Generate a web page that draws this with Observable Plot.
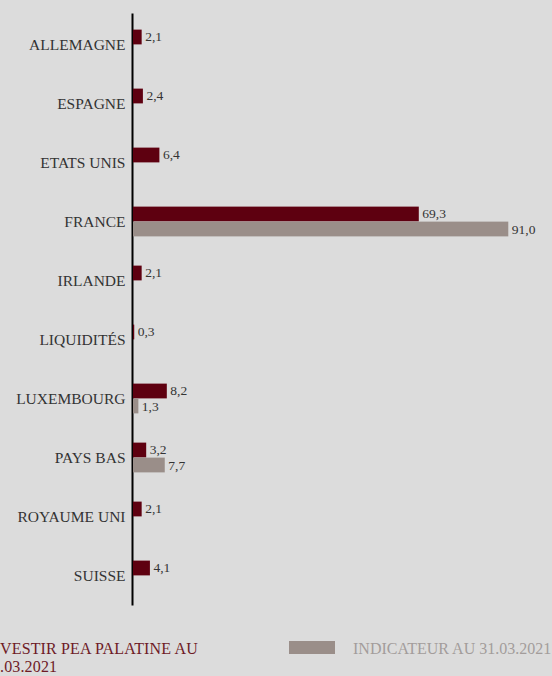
<!DOCTYPE html>
<html>
<head>
<meta charset="utf-8">
<script src="https://cdn.jsdelivr.net/npm/d3@7"></script>
<script src="https://cdn.jsdelivr.net/npm/@observablehq/plot@0.6"></script>
<style>
  html, body { margin: 0; padding: 0; background: #dcdcdc; width: 552px; height: 676px; overflow: hidden; }
  #wrap { position: relative; width: 552px; height: 676px; font-family: "Liberation Serif", Tinos, "Times New Roman", "DejaVu Serif", serif; }
  .leg { position: absolute; font-size: 16px; line-height: 18px; white-space: nowrap; }
  #leg1 { left: 0px; top: 640px; color: #6e1a26; letter-spacing: 0.15px; }
  #leg2 { left: 289px; top: 640px; color: #a39c9b; }
  #sw { display: inline-block; width: 46px; height: 13px; background: #9a8e89; vertical-align: top; margin-top: 1px; margin-right: 18px; }
</style>
</head>
<body>
<div id="wrap">
  <div id="chart"></div>
  <div class="leg" id="leg1">VESTIR PEA PALATINE AU<br>.03.2021</div>
  <div class="leg" id="leg2"><span id="sw"></span>INDICATEUR AU 31.03.2021</div>
</div>
<script>
const countries = ["ALLEMAGNE","ESPAGNE","ETATS UNIS","FRANCE","IRLANDE","LIQUIDITÉS","LUXEMBOURG","PAYS BAS","ROYAUME UNI","SUISSE"];
const fundValues = [2.1, 2.4, 6.4, 69.3, 2.1, 0.3, 8.2, 3.2, 2.1, 4.1];
const indexValues = [null, null, null, 91.0, null, null, 1.3, 7.7, null, null];

const fundData = countries.map((c, i) => ({country: c, value: fundValues[i]}));
const indexData = countries.map((c, i) => ({country: c, value: indexValues[i]})).filter(d => d.value != null);
const fmt = v => v.toFixed(1).replace(".", ",");

const FONT = "'Liberation Serif', Tinos, 'Times New Roman', 'DejaVu Serif', serif";
const RED = "#5e0010";
const GRAY = "#9a8e89";
const band = (606.6 - 14.4) / countries.length;
const barH = 15;

const chart = Plot.plot({
  width: 552,
  height: 625,
  marginLeft: 133,
  marginRight: 0,
  marginTop: 13.4,
  marginBottom: 19.4,
  style: {background: "transparent", fontFamily: FONT},
  x: {domain: [0, 101.6], axis: null},
  y: {domain: countries, type: "band", padding: 0, label: null},
  marks: [
    Plot.axisY({tickSize: 0, tickPadding: 8, fontSize: 15.5, fill: "#333", label: null, fontFamily: FONT}),
    Plot.ruleX([0], {stroke: "#000", strokeWidth: 2, dx: -1}),
    Plot.barX(fundData, {x: "value", y: "country", fill: RED, insetTop: band/2 - barH, insetBottom: band/2}),
    Plot.barX(indexData, {x: "value", y: "country", fill: GRAY, insetTop: band/2, insetBottom: band/2 - barH}),
    Plot.text(fundData, {x: "value", y: "country", text: d => fmt(d.value), dy: -barH/2 - 1, dx: 3, textAnchor: "start", fontSize: 13.5, fill: "#333", fontFamily: FONT}),
    Plot.text(indexData, {x: "value", y: "country", text: d => fmt(d.value), dy: barH/2, dx: 3, textAnchor: "start", fontSize: 13.5, fill: "#333", fontFamily: FONT})
  ]
});
document.getElementById("chart").appendChild(chart);
</script>
</body>
</html>
